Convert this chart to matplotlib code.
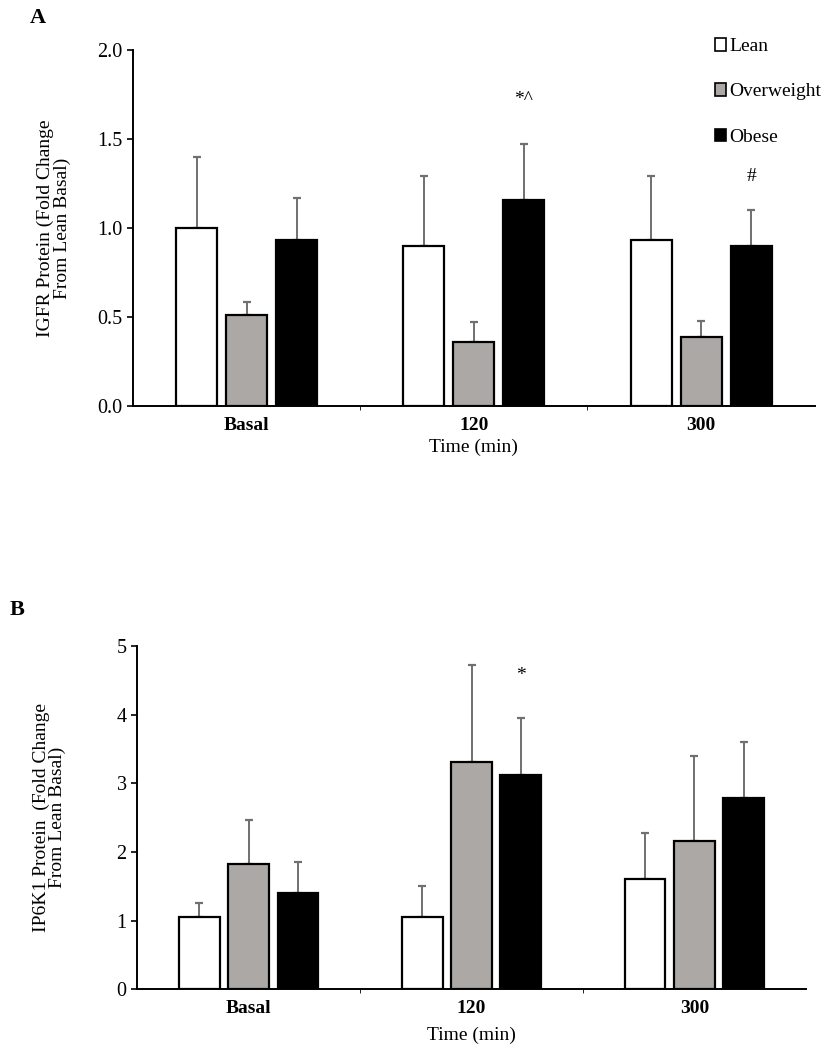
import numpy as np
import matplotlib.pyplot as plt
from matplotlib.patches import Patch

plt.rcParams["font.family"] = ["Liberation Serif", "DejaVu Serif"]

# Data
times = ["Basal", "120", "300"]
groups = ["Lean", "Overweight", "Obese"]
colors = ["white", "#aba8a6", "black"]

igfr_mean = {
    "Lean": [1.00, 0.90, 0.93],
    "Overweight": [0.51, 0.36, 0.39],
    "Obese": [0.93, 1.16, 0.90],
}
igfr_err = {
    "Lean": [0.40, 0.39, 0.36],
    "Overweight": [0.075, 0.11, 0.09],
    "Obese": [0.24, 0.31, 0.20],
}

ip6k1_mean = {
    "Lean": [1.06, 1.06, 1.61],
    "Overweight": [1.83, 3.31, 2.16],
    "Obese": [1.40, 3.12, 2.79],
}
ip6k1_err = {
    "Lean": [0.20, 0.45, 0.66],
    "Overweight": [0.64, 1.41, 1.24],
    "Obese": [0.46, 0.83, 0.81],
}

# significance marks: (time index, group, text, y)
igfr_marks = [(1, "Obese", "*^", 1.72), (2, "Obese", "#", 1.29)]
ip6k1_marks = [(1, "Obese", "*", 4.57)]

fig = plt.figure(figsize=(8.28, 10.5), dpi=100)
axA = fig.add_axes([0.1606, 0.6133, 0.8234, 0.3391])
axB = fig.add_axes([0.1655, 0.0578, 0.8079, 0.3270])

x = np.arange(len(times))
width = 0.18
step = 0.22


def draw(ax, means, errs, marks, ylim, yticks, yfmt, ylabel, ypad, xpad):
    for i, g in enumerate(groups):
        pos = x + (i - 1) * step
        ax.bar(pos, means[g], width, color=colors[i], edgecolor="black",
               linewidth=1.6, zorder=3)
        ax.errorbar(pos, means[g], yerr=[np.zeros(3), errs[g]], fmt="none",
                    ecolor="#707070", elinewidth=1.4, capsize=3, capthick=1.6,
                    zorder=2)
    for ti, g, txt, yy in marks:
        gi = groups.index(g)
        ax.text(x[ti] + (gi - 1) * step, yy, txt, ha="center", va="center",
                fontsize=14)
    ax.set_xlim(-0.5, 2.5)
    ax.set_ylim(*ylim)
    ax.set_yticks(yticks)
    ax.set_yticklabels([yfmt.format(v) for v in yticks], fontsize=14.5)
    ax.set_xticks(x)
    ax.set_xticklabels(times, fontsize=14, fontweight="bold")
    ax.set_xticks([0.5, 1.5], minor=True)
    ax.tick_params(axis="x", which="major", length=0, pad=8)
    ax.tick_params(axis="x", which="minor", length=3, direction="out")
    ax.tick_params(axis="y", length=4, width=1.2, direction="out")
    ax.spines["top"].set_visible(False)
    ax.spines["right"].set_visible(False)
    ax.spines["left"].set_linewidth(1.4)
    ax.spines["bottom"].set_linewidth(1.4)
    ax.set_ylabel(ylabel, fontsize=14, linespacing=0.95, labelpad=ypad)
    ax.set_xlabel("Time (min)", fontsize=14, labelpad=xpad)


draw(axA, igfr_mean, igfr_err, igfr_marks, (0, 2.0),
     [0.0, 0.5, 1.0, 1.5, 2.0], "{:.1f}",
     "IGFR Protein (Fold Change\nFrom Lean Basal)", 19, 3)
draw(axB, ip6k1_mean, ip6k1_err, ip6k1_marks, (0, 5),
     [0, 1, 2, 3, 4, 5], "{:d}",
     "IP6K1 Protein  (Fold Change\nFrom Lean Basal)", 36, 7)

handles = [Patch(facecolor=c, edgecolor="black", linewidth=1.2, label=g)
           for g, c in zip(groups, colors)]
axA.legend(handles=handles, loc="upper left", bbox_to_anchor=(0.842, 1.055),
           frameon=False, fontsize=14, handlelength=0.6, handleheight=0.6,
           handletextpad=0.15, labelspacing=1.45, borderaxespad=0)

fig.text(0.036, 0.983, "A", fontsize=16, fontweight="bold", va="center")
fig.text(0.012, 0.419, "B", fontsize=16, fontweight="bold", va="center")

fig.savefig("out.png", dpi=100)
